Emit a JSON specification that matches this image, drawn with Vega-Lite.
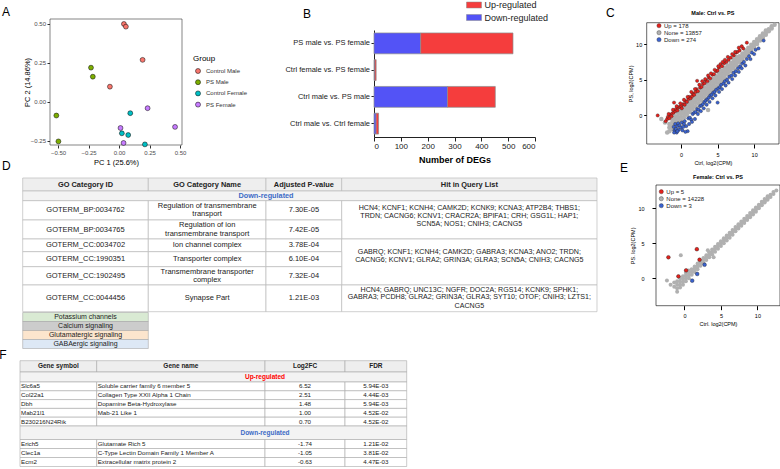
{
  "$schema": "https://vega.github.io/schema/vega-lite/v6.json",
  "width": 780,
  "height": 469,
  "autosize": {"type": "none"},
  "padding": 0,
  "background": "white",
  "config": {"view": {"stroke": null}, "font": "Liberation Sans", "axis": {"grid": false}},
  "datasets": {
    "pca": [
      {"pc1": 0.04, "pc2": 0.5, "group": "Control Male"},
      {"pc1": 0.056, "pc2": 0.483, "group": "Control Male"},
      {"pc1": 0.193, "pc2": 0.27, "group": "Control Male"},
      {"pc1": -0.075, "pc2": 0.098, "group": "Control Male"},
      {"pc1": -0.23, "pc2": 0.22, "group": "PS Male"},
      {"pc1": -0.215, "pc2": 0.162, "group": "PS Male"},
      {"pc1": -0.514, "pc2": -0.087, "group": "PS Male"},
      {"pc1": -0.497, "pc2": -0.253, "group": "PS Male"},
      {"pc1": 0.092, "pc2": -0.072, "group": "Control Female"},
      {"pc1": 0.023, "pc2": -0.201, "group": "Control Female"},
      {"pc1": 0.075, "pc2": -0.212, "group": "Control Female"},
      {"pc1": 0.212, "pc2": -0.272, "group": "Control Female"},
      {"pc1": 0.234, "pc2": -0.04, "group": "PS Female"},
      {"pc1": 0.459, "pc2": -0.16, "group": "PS Female"},
      {"pc1": 0.012, "pc2": -0.167, "group": "PS Female"},
      {"pc1": 0.037, "pc2": -0.263, "group": "PS Female"}
    ],
    "degs": [
      {"comparison": "PS male vs. PS female", "reg": "Down-regulated", "n": 174},
      {"comparison": "PS male vs. PS female", "reg": "Up-regulated", "n": 344},
      {"comparison": "Ctrl female vs. PS female", "reg": "Down-regulated", "n": 3},
      {"comparison": "Ctrl female vs. PS female", "reg": "Up-regulated", "n": 5},
      {"comparison": "Ctrl male vs. PS male", "reg": "Down-regulated", "n": 274},
      {"comparison": "Ctrl male vs. PS male", "reg": "Up-regulated", "n": 178},
      {"comparison": "Ctrl male vs. Ctrl female", "reg": "Down-regulated", "n": 8},
      {"comparison": "Ctrl male vs. Ctrl female", "reg": "Up-regulated", "n": 9}
    ],
    "cm": [
      {"x": -1.6, "y": -2.2, "s": "None"}, {"x": -1.6, "y": -1.7, "s": "None"}, {"x": -1.6, "y": -1.2, "s": "None"},
      {"x": -1.2, "y": -1.9, "s": "None"}, {"x": -1.2, "y": -1.4, "s": "None"}, {"x": -1.2, "y": -0.9, "s": "None"}, {"x": -1.2, "y": -0.5, "s": "None"},
      {"x": -0.8, "y": -1.5, "s": "None"}, {"x": -0.8, "y": -1.0, "s": "None"}, {"x": -0.8, "y": -0.6, "s": "None"}, {"x": -0.8, "y": -0.1, "s": "None"},
      {"x": -0.4, "y": -1.1, "s": "None"}, {"x": -0.4, "y": -0.6, "s": "None"}, {"x": -0.4, "y": -0.2, "s": "None"}, {"x": -0.4, "y": 0.3, "s": "None"},
      {"x": 0.0, "y": -0.7, "s": "None"}, {"x": 0.0, "y": -0.2, "s": "None"}, {"x": 0.0, "y": 0.3, "s": "None"}, {"x": 0.0, "y": 0.7, "s": "None"},
      {"x": 0.4, "y": -0.3, "s": "None"}, {"x": 0.4, "y": 0.2, "s": "None"}, {"x": 0.4, "y": 0.6, "s": "None"}, {"x": 0.4, "y": 1.1, "s": "None"},
      {"x": 0.8, "y": 0.1, "s": "None"}, {"x": 0.8, "y": 0.6, "s": "None"}, {"x": 0.8, "y": 1.0, "s": "None"}, {"x": 0.8, "y": 1.5, "s": "None"},
      {"x": 1.2, "y": 0.5, "s": "None"}, {"x": 1.2, "y": 1.0, "s": "None"}, {"x": 1.2, "y": 1.4, "s": "None"}, {"x": 1.2, "y": 1.9, "s": "None"},
      {"x": 1.6, "y": 0.9, "s": "None"}, {"x": 1.6, "y": 1.4, "s": "None"}, {"x": 1.6, "y": 1.8, "s": "None"}, {"x": 1.6, "y": 2.3, "s": "None"},
      {"x": 2.0, "y": 1.3, "s": "None"}, {"x": 2.0, "y": 1.8, "s": "None"}, {"x": 2.0, "y": 2.2, "s": "None"}, {"x": 2.0, "y": 2.7, "s": "None"},
      {"x": 2.4, "y": 1.7, "s": "None"}, {"x": 2.4, "y": 2.2, "s": "None"}, {"x": 2.4, "y": 2.6, "s": "None"}, {"x": 2.4, "y": 3.1, "s": "None"},
      {"x": 2.8, "y": 2.1, "s": "None"}, {"x": 2.8, "y": 2.6, "s": "None"}, {"x": 2.8, "y": 3.0, "s": "None"}, {"x": 2.8, "y": 3.5, "s": "None"},
      {"x": 3.2, "y": 2.5, "s": "None"}, {"x": 3.2, "y": 3.0, "s": "None"}, {"x": 3.2, "y": 3.4, "s": "None"}, {"x": 3.2, "y": 3.9, "s": "None"},
      {"x": 3.6, "y": 2.9, "s": "None"}, {"x": 3.6, "y": 3.4, "s": "None"}, {"x": 3.6, "y": 3.8, "s": "None"}, {"x": 3.6, "y": 4.3, "s": "None"},
      {"x": 4.0, "y": 3.3, "s": "None"}, {"x": 4.0, "y": 3.8, "s": "None"}, {"x": 4.0, "y": 4.2, "s": "None"}, {"x": 4.0, "y": 4.7, "s": "None"},
      {"x": 4.4, "y": 3.7, "s": "None"}, {"x": 4.4, "y": 4.2, "s": "None"}, {"x": 4.4, "y": 4.6, "s": "None"}, {"x": 4.4, "y": 5.1, "s": "None"},
      {"x": 4.8, "y": 4.1, "s": "None"}, {"x": 4.8, "y": 4.6, "s": "None"}, {"x": 4.8, "y": 5.0, "s": "None"}, {"x": 4.8, "y": 5.5, "s": "None"},
      {"x": 5.2, "y": 4.5, "s": "None"}, {"x": 5.2, "y": 5.0, "s": "None"}, {"x": 5.2, "y": 5.4, "s": "None"}, {"x": 5.2, "y": 5.9, "s": "None"},
      {"x": 5.6, "y": 4.9, "s": "None"}, {"x": 5.6, "y": 5.4, "s": "None"}, {"x": 5.6, "y": 5.8, "s": "None"}, {"x": 5.6, "y": 6.3, "s": "None"},
      {"x": 6.0, "y": 5.3, "s": "None"}, {"x": 6.0, "y": 5.8, "s": "None"}, {"x": 6.0, "y": 6.2, "s": "None"}, {"x": 6.0, "y": 6.7, "s": "None"},
      {"x": 6.4, "y": 5.8, "s": "None"}, {"x": 6.4, "y": 6.2, "s": "None"}, {"x": 6.4, "y": 6.6, "s": "None"}, {"x": 6.4, "y": 7.0, "s": "None"},
      {"x": 6.8, "y": 6.2, "s": "None"}, {"x": 6.8, "y": 6.6, "s": "None"}, {"x": 6.8, "y": 7.0, "s": "None"}, {"x": 6.8, "y": 7.4, "s": "None"},
      {"x": 7.2, "y": 6.6, "s": "None"}, {"x": 7.2, "y": 7.0, "s": "None"}, {"x": 7.2, "y": 7.4, "s": "None"}, {"x": 7.2, "y": 7.8, "s": "None"},
      {"x": 7.6, "y": 7.0, "s": "None"}, {"x": 7.6, "y": 7.4, "s": "None"}, {"x": 7.6, "y": 7.8, "s": "None"}, {"x": 7.6, "y": 8.2, "s": "None"},
      {"x": 8.0, "y": 7.5, "s": "None"}, {"x": 8.0, "y": 7.9, "s": "None"}, {"x": 8.0, "y": 8.3, "s": "None"},
      {"x": 8.4, "y": 7.9, "s": "None"}, {"x": 8.4, "y": 8.3, "s": "None"}, {"x": 8.4, "y": 8.7, "s": "None"},
      {"x": 8.8, "y": 8.3, "s": "None"}, {"x": 8.8, "y": 8.7, "s": "None"}, {"x": 8.8, "y": 9.1, "s": "None"},
      {"x": 9.2, "y": 8.7, "s": "None"}, {"x": 9.2, "y": 9.1, "s": "None"}, {"x": 9.2, "y": 9.5, "s": "None"},
      {"x": 9.6, "y": 9.2, "s": "None"}, {"x": 9.6, "y": 9.5, "s": "None"}, {"x": 9.6, "y": 9.9, "s": "None"},
      {"x": 10.0, "y": 9.6, "s": "None"}, {"x": 10.0, "y": 9.9, "s": "None"}, {"x": 10.0, "y": 10.3, "s": "None"},
      {"x": 10.4, "y": 10.0, "s": "None"}, {"x": 10.4, "y": 10.3, "s": "None"}, {"x": 10.4, "y": 10.7, "s": "None"},
      {"x": 10.8, "y": 10.5, "s": "None"}, {"x": 10.8, "y": 10.8, "s": "None"}, {"x": 10.8, "y": 11.1, "s": "None"},
      {"x": 11.2, "y": 10.9, "s": "None"}, {"x": 11.2, "y": 11.2, "s": "None"}, {"x": 11.2, "y": 11.5, "s": "None"},
      {"x": 11.6, "y": 11.3, "s": "None"}, {"x": 11.6, "y": 11.6, "s": "None"}, {"x": 11.6, "y": 11.9, "s": "None"},
      {"x": 12.0, "y": 11.8, "s": "None"}, {"x": 12.0, "y": 12.1, "s": "None"},
      {"x": 12.4, "y": 12.2, "s": "None"}, {"x": 12.4, "y": 12.5, "s": "None"},
      {"x": 12.8, "y": 12.7, "s": "None"},
      {"x": -2.7, "y": -0.5, "s": "None"}, {"x": 3.7, "y": 0.75, "s": "None"}, {"x": -2.2, "y": -1.0, "s": "None"}, {"x": -1.9, "y": -2.4, "s": "None"},
      {"x": -3.2, "y": 0.0, "s": "Up"}, {"x": -2.1, "y": -0.8, "s": "Up"}, {"x": -1.9, "y": -0.5, "s": "Up"}, {"x": -1.8, "y": -0.2, "s": "Up"},
      {"x": -1.6, "y": -0.4, "s": "Up"}, {"x": -1.5, "y": 0.1, "s": "Up"}, {"x": -1.3, "y": -0.1, "s": "Up"}, {"x": -1.2, "y": 0.3, "s": "Up"},
      {"x": -1.0, "y": 0.4, "s": "Up"}, {"x": -0.96, "y": 1.8, "s": "Up"}, {"x": -0.8, "y": 0.6, "s": "Up"}, {"x": -0.7, "y": 0.9, "s": "Up"},
      {"x": -0.5, "y": 0.7, "s": "Up"}, {"x": -0.4, "y": 1.1, "s": "Up"}, {"x": -0.2, "y": 1.2, "s": "Up"}, {"x": 0.0, "y": 1.3, "s": "Up"},
      {"x": 0.1, "y": 1.0, "s": "Up"}, {"x": 0.3, "y": 1.6, "s": "Up"}, {"x": 0.5, "y": 1.5, "s": "Up"}, {"x": 0.6, "y": 2.0, "s": "Up"},
      {"x": 0.8, "y": 1.9, "s": "Up"}, {"x": 1.0, "y": 2.3, "s": "Up"}, {"x": 1.1, "y": 2.6, "s": "Up"}, {"x": 1.3, "y": 2.4, "s": "Up"},
      {"x": 1.5, "y": 2.7, "s": "Up"}, {"x": 1.6, "y": 3.1, "s": "Up"}, {"x": 1.8, "y": 2.9, "s": "Up"}, {"x": 2.0, "y": 3.3, "s": "Up"},
      {"x": 2.1, "y": 3.7, "s": "Up"}, {"x": 2.2, "y": 4.85, "s": "Up"}, {"x": 2.3, "y": 3.4, "s": "Up"}, {"x": 2.6, "y": 3.9, "s": "Up"},
      {"x": 2.8, "y": 4.0, "s": "Up"}, {"x": 3.0, "y": 4.4, "s": "Up"}, {"x": 3.2, "y": 4.5, "s": "Up"}, {"x": 3.4, "y": 4.9, "s": "Up"},
      {"x": 3.6, "y": 4.8, "s": "Up"}, {"x": 3.8, "y": 5.3, "s": "Up"}, {"x": 4.0, "y": 5.2, "s": "Up"}, {"x": 4.3, "y": 5.7, "s": "Up"},
      {"x": 4.5, "y": 5.8, "s": "Up"}, {"x": 4.8, "y": 6.2, "s": "Up"}, {"x": 5.0, "y": 6.3, "s": "Up"}, {"x": 5.2, "y": 6.7, "s": "Up"},
      {"x": 5.4, "y": 7.2, "s": "Up"}, {"x": 5.6, "y": 6.9, "s": "Up"}, {"x": 5.9, "y": 7.3, "s": "Up"}, {"x": 6.2, "y": 7.5, "s": "Up"},
      {"x": 6.5, "y": 7.8, "s": "Up"}, {"x": 6.8, "y": 8.1, "s": "Up"}, {"x": 7.2, "y": 8.4, "s": "Up"}, {"x": 7.5, "y": 8.8, "s": "Up"},
      {"x": 7.7, "y": 8.9, "s": "Up"}, {"x": 8.0, "y": 9.1, "s": "Up"}, {"x": 8.5, "y": 9.4, "s": "Up"}, {"x": 9.0, "y": 10.2, "s": "Up"},
      {"x": -1.7, "y": 0.2, "s": "Up"}, {"x": -1.1, "y": 0.8, "s": "Up"}, {"x": -0.6, "y": 1.3, "s": "Up"}, {"x": -0.1, "y": 1.7, "s": "Up"},
      {"x": 0.4, "y": 2.2, "s": "Up"}, {"x": 0.9, "y": 2.6, "s": "Up"}, {"x": 1.4, "y": 3.3, "s": "Up"}, {"x": 1.9, "y": 3.7, "s": "Up"},
      {"x": 2.5, "y": 4.3, "s": "Up"}, {"x": 2.9, "y": 4.8, "s": "Up"}, {"x": 3.3, "y": 5.1, "s": "Up"}, {"x": 3.7, "y": 5.6, "s": "Up"},
      {"x": 4.1, "y": 5.9, "s": "Up"}, {"x": 4.6, "y": 6.4, "s": "Up"}, {"x": 5.1, "y": 6.9, "s": "Up"}, {"x": 5.7, "y": 7.5, "s": "Up"},
      {"x": 6.0, "y": 7.8, "s": "Up"}, {"x": 6.4, "y": 8.2, "s": "Up"}, {"x": 7.0, "y": 8.6, "s": "Up"}, {"x": 7.4, "y": 8.9, "s": "Up"},
      {"x": 7.9, "y": 9.5, "s": "Up"}, {"x": 8.3, "y": 9.7, "s": "Up"},
      {"x": -1.0, "y": -1.6, "s": "Down"}, {"x": -0.9, "y": -2.1, "s": "Down"}, {"x": -0.8, "y": -1.2, "s": "Down"}, {"x": -0.7, "y": -1.9, "s": "Down"},
      {"x": -0.6, "y": -2.4, "s": "Down"}, {"x": -0.5, "y": -1.5, "s": "Down"}, {"x": -0.4, "y": -1.1, "s": "Down"}, {"x": -0.3, "y": -2.0, "s": "Down"},
      {"x": -0.2, "y": -1.4, "s": "Down"}, {"x": 0.0, "y": -1.7, "s": "Down"}, {"x": 0.1, "y": -1.0, "s": "Down"}, {"x": 0.2, "y": -2.1, "s": "Down"},
      {"x": 0.4, "y": -1.2, "s": "Down"}, {"x": 0.5, "y": -0.8, "s": "Down"}, {"x": 0.7, "y": -1.5, "s": "Down"}, {"x": 0.9, "y": -2.2, "s": "Down"},
      {"x": 1.0, "y": -0.4, "s": "Down"}, {"x": 1.2, "y": -0.3, "s": "Down"}, {"x": 1.4, "y": -0.6, "s": "Down"}, {"x": 1.6, "y": 0.2, "s": "Down"},
      {"x": 1.8, "y": 0.4, "s": "Down"}, {"x": 2.0, "y": 0.5, "s": "Down"}, {"x": 2.2, "y": 0.9, "s": "Down"}, {"x": 2.4, "y": 0.8, "s": "Down"},
      {"x": 2.6, "y": 1.3, "s": "Down"}, {"x": 2.8, "y": 1.4, "s": "Down"}, {"x": 3.0, "y": 1.6, "s": "Down"}, {"x": 3.2, "y": 1.9, "s": "Down"},
      {"x": 3.4, "y": 2.1, "s": "Down"}, {"x": 3.6, "y": 2.3, "s": "Down"}, {"x": 3.8, "y": 2.5, "s": "Down"}, {"x": 4.0, "y": 2.8, "s": "Down"},
      {"x": 4.2, "y": 2.9, "s": "Down"}, {"x": 4.4, "y": 3.2, "s": "Down"}, {"x": 4.6, "y": 3.3, "s": "Down"}, {"x": 4.8, "y": 3.6, "s": "Down"},
      {"x": 5.0, "y": 1.8, "s": "Down"}, {"x": 5.1, "y": 3.8, "s": "Down"}, {"x": 5.3, "y": 4.0, "s": "Down"}, {"x": 5.5, "y": 4.3, "s": "Down"},
      {"x": 5.8, "y": 4.5, "s": "Down"}, {"x": 6.0, "y": 4.8, "s": "Down"}, {"x": 6.3, "y": 5.0, "s": "Down"}, {"x": 6.6, "y": 5.4, "s": "Down"},
      {"x": 6.9, "y": 5.6, "s": "Down"}, {"x": 7.2, "y": 6.0, "s": "Down"}, {"x": 7.5, "y": 6.2, "s": "Down"}, {"x": 7.8, "y": 6.6, "s": "Down"},
      {"x": 8.1, "y": 6.9, "s": "Down"}, {"x": 8.4, "y": 7.3, "s": "Down"}, {"x": 8.6, "y": 7.5, "s": "Down"}, {"x": 9.0, "y": 7.9, "s": "Down"},
      {"x": 9.3, "y": 8.3, "s": "Down"}, {"x": 9.7, "y": 8.8, "s": "Down"}, {"x": 10.2, "y": 9.2, "s": "Down"}, {"x": 11.3, "y": 10.5, "s": "Down"},
      {"x": -0.95, "y": -2.4, "s": "Down"}, {"x": -0.5, "y": -2.2, "s": "Down"}, {"x": 0.3, "y": -1.6, "s": "Down"}, {"x": 0.6, "y": -2.3, "s": "Down"},
      {"x": 1.1, "y": -1.2, "s": "Down"}, {"x": 1.5, "y": -0.9, "s": "Down"}, {"x": 1.9, "y": -0.5, "s": "Down"}, {"x": 2.3, "y": 0.2, "s": "Down"},
      {"x": 2.7, "y": 0.6, "s": "Down"}, {"x": 3.1, "y": 1.0, "s": "Down"}, {"x": 3.5, "y": 1.5, "s": "Down"}, {"x": 3.9, "y": 1.9, "s": "Down"},
      {"x": 4.3, "y": 2.4, "s": "Down"}, {"x": 4.7, "y": 2.8, "s": "Down"}, {"x": 5.2, "y": 3.3, "s": "Down"}, {"x": 5.6, "y": 3.7, "s": "Down"},
      {"x": 6.1, "y": 4.2, "s": "Down"}, {"x": 6.5, "y": 4.6, "s": "Down"}, {"x": 7.0, "y": 5.1, "s": "Down"}, {"x": 7.4, "y": 5.6, "s": "Down"},
      {"x": 7.9, "y": 6.1, "s": "Down"}, {"x": 8.3, "y": 6.6, "s": "Down"}, {"x": 8.8, "y": 7.0, "s": "Down"}, {"x": 9.5, "y": 7.9, "s": "Down"},
      {"x": 10.0, "y": 8.6, "s": "Down"}, {"x": 10.6, "y": 9.4, "s": "Down"}
    ],
    "fm": [
      {"x": -1.4, "y": -1.2, "s": "None"}, {"x": -1.4, "y": -0.6, "s": "None"},
      {"x": -1.0, "y": -1.9, "s": "None"}, {"x": -1.0, "y": -1.4, "s": "None"}, {"x": -1.0, "y": -0.9, "s": "None"}, {"x": -1.0, "y": -0.4, "s": "None"},
      {"x": -0.6, "y": -1.3, "s": "None"}, {"x": -0.6, "y": -0.9, "s": "None"}, {"x": -0.6, "y": -0.5, "s": "None"}, {"x": -0.6, "y": 0.0, "s": "None"},
      {"x": -0.2, "y": -0.9, "s": "None"}, {"x": -0.2, "y": -0.5, "s": "None"}, {"x": -0.2, "y": -0.1, "s": "None"}, {"x": -0.2, "y": 0.3, "s": "None"},
      {"x": 0.2, "y": -0.4, "s": "None"}, {"x": 0.2, "y": 0.0, "s": "None"}, {"x": 0.2, "y": 0.4, "s": "None"}, {"x": 0.2, "y": 0.8, "s": "None"},
      {"x": 0.6, "y": 0.0, "s": "None"}, {"x": 0.6, "y": 0.4, "s": "None"}, {"x": 0.6, "y": 0.8, "s": "None"}, {"x": 0.6, "y": 1.1, "s": "None"},
      {"x": 1.0, "y": 0.5, "s": "None"}, {"x": 1.0, "y": 0.9, "s": "None"}, {"x": 1.0, "y": 1.3, "s": "None"},
      {"x": 1.4, "y": 0.9, "s": "None"}, {"x": 1.4, "y": 1.3, "s": "None"}, {"x": 1.4, "y": 1.7, "s": "None"},
      {"x": 1.8, "y": 1.3, "s": "None"}, {"x": 1.8, "y": 1.7, "s": "None"}, {"x": 1.8, "y": 2.1, "s": "None"},
      {"x": 2.2, "y": 1.8, "s": "None"}, {"x": 2.2, "y": 2.2, "s": "None"}, {"x": 2.2, "y": 2.5, "s": "None"},
      {"x": 2.6, "y": 2.2, "s": "None"}, {"x": 2.6, "y": 2.6, "s": "None"}, {"x": 2.6, "y": 2.9, "s": "None"},
      {"x": 3.0, "y": 2.6, "s": "None"}, {"x": 3.0, "y": 3.0, "s": "None"}, {"x": 3.0, "y": 3.3, "s": "None"},
      {"x": 3.4, "y": 3.0, "s": "None"}, {"x": 3.4, "y": 3.4, "s": "None"}, {"x": 3.4, "y": 3.7, "s": "None"},
      {"x": 3.8, "y": 3.4, "s": "None"}, {"x": 3.8, "y": 3.8, "s": "None"}, {"x": 3.8, "y": 4.1, "s": "None"},
      {"x": 4.2, "y": 3.8, "s": "None"}, {"x": 4.2, "y": 4.2, "s": "None"}, {"x": 4.2, "y": 4.5, "s": "None"},
      {"x": 4.6, "y": 4.2, "s": "None"}, {"x": 4.6, "y": 4.6, "s": "None"}, {"x": 4.6, "y": 4.9, "s": "None"},
      {"x": 5.0, "y": 4.6, "s": "None"}, {"x": 5.0, "y": 5.0, "s": "None"}, {"x": 5.0, "y": 5.3, "s": "None"},
      {"x": 5.4, "y": 5.0, "s": "None"}, {"x": 5.4, "y": 5.4, "s": "None"}, {"x": 5.4, "y": 5.7, "s": "None"},
      {"x": 5.8, "y": 5.4, "s": "None"}, {"x": 5.8, "y": 5.8, "s": "None"}, {"x": 5.8, "y": 6.1, "s": "None"},
      {"x": 6.2, "y": 5.8, "s": "None"}, {"x": 6.2, "y": 6.2, "s": "None"}, {"x": 6.2, "y": 6.5, "s": "None"},
      {"x": 6.6, "y": 6.2, "s": "None"}, {"x": 6.6, "y": 6.6, "s": "None"}, {"x": 6.6, "y": 6.9, "s": "None"},
      {"x": 7.0, "y": 6.7, "s": "None"}, {"x": 7.0, "y": 7.0, "s": "None"}, {"x": 7.0, "y": 7.3, "s": "None"},
      {"x": 7.4, "y": 7.1, "s": "None"}, {"x": 7.4, "y": 7.4, "s": "None"}, {"x": 7.4, "y": 7.7, "s": "None"},
      {"x": 7.8, "y": 7.5, "s": "None"}, {"x": 7.8, "y": 7.8, "s": "None"}, {"x": 7.8, "y": 8.1, "s": "None"},
      {"x": 8.2, "y": 7.9, "s": "None"}, {"x": 8.2, "y": 8.2, "s": "None"}, {"x": 8.2, "y": 8.5, "s": "None"},
      {"x": 8.6, "y": 8.3, "s": "None"}, {"x": 8.6, "y": 8.6, "s": "None"}, {"x": 8.6, "y": 8.9, "s": "None"},
      {"x": 9.0, "y": 8.7, "s": "None"}, {"x": 9.0, "y": 9.0, "s": "None"}, {"x": 9.0, "y": 9.3, "s": "None"},
      {"x": 9.4, "y": 9.1, "s": "None"}, {"x": 9.4, "y": 9.4, "s": "None"}, {"x": 9.4, "y": 9.7, "s": "None"},
      {"x": 9.8, "y": 9.5, "s": "None"}, {"x": 9.8, "y": 9.8, "s": "None"}, {"x": 9.8, "y": 10.1, "s": "None"},
      {"x": 10.2, "y": 10.0, "s": "None"}, {"x": 10.2, "y": 10.2, "s": "None"}, {"x": 10.2, "y": 10.5, "s": "None"},
      {"x": 10.6, "y": 10.4, "s": "None"}, {"x": 10.6, "y": 10.6, "s": "None"}, {"x": 10.6, "y": 10.9, "s": "None"},
      {"x": 11.0, "y": 10.8, "s": "None"}, {"x": 11.0, "y": 11.0, "s": "None"}, {"x": 11.0, "y": 11.3, "s": "None"},
      {"x": 11.4, "y": 11.2, "s": "None"}, {"x": 11.4, "y": 11.4, "s": "None"}, {"x": 11.4, "y": 11.7, "s": "None"},
      {"x": 11.8, "y": 11.6, "s": "None"}, {"x": 11.8, "y": 11.9, "s": "None"},
      {"x": 12.2, "y": 12.0, "s": "None"}, {"x": 12.2, "y": 12.3, "s": "None"},
      {"x": 12.6, "y": 12.5, "s": "None"},
      {"x": -2.4, "y": -0.3, "s": "None"}, {"x": -0.5, "y": 3.3, "s": "None"}, {"x": 3.2, "y": 4.0, "s": "None"}, {"x": -1.9, "y": -0.9, "s": "None"}, {"x": 4.0, "y": 3.0, "s": "None"},
      {"x": -2.2, "y": 3.0, "s": "Up"}, {"x": 1.7, "y": 4.15, "s": "Up"}, {"x": 2.07, "y": 2.65, "s": "Up"}, {"x": 0.23, "y": 1.14, "s": "Up"}, {"x": -0.83, "y": 0.28, "s": "Up"},
      {"x": 2.76, "y": 1.94, "s": "Down"}, {"x": 1.75, "y": 0.62, "s": "Down"}, {"x": 1.06, "y": -0.33, "s": "Down"}
    ],
    "dcells": [
      {"c0": 0, "c1": 1, "r0": 0, "r1": 1, "k": "h"}, {"c0": 1, "c1": 2, "r0": 0, "r1": 1, "k": "h"},
      {"c0": 2, "c1": 3, "r0": 0, "r1": 1, "k": "h"}, {"c0": 3, "c1": 4, "r0": 0, "r1": 1, "k": "h"},
      {"c0": 0, "c1": 4, "r0": 1, "r1": 2, "k": "s"},
      {"c0": 0, "c1": 1, "r0": 2, "r1": 3, "k": "d"}, {"c0": 1, "c1": 2, "r0": 2, "r1": 3, "k": "d"}, {"c0": 2, "c1": 3, "r0": 2, "r1": 3, "k": "d"},
      {"c0": 3, "c1": 4, "r0": 2, "r1": 4, "k": "d"},
      {"c0": 0, "c1": 1, "r0": 3, "r1": 4, "k": "d"}, {"c0": 1, "c1": 2, "r0": 3, "r1": 4, "k": "d"}, {"c0": 2, "c1": 3, "r0": 3, "r1": 4, "k": "d"},
      {"c0": 0, "c1": 1, "r0": 4, "r1": 5, "k": "d"}, {"c0": 1, "c1": 2, "r0": 4, "r1": 5, "k": "d"}, {"c0": 2, "c1": 3, "r0": 4, "r1": 5, "k": "d"},
      {"c0": 3, "c1": 4, "r0": 4, "r1": 7, "k": "d"},
      {"c0": 0, "c1": 1, "r0": 5, "r1": 6, "k": "d"}, {"c0": 1, "c1": 2, "r0": 5, "r1": 6, "k": "d"}, {"c0": 2, "c1": 3, "r0": 5, "r1": 6, "k": "d"},
      {"c0": 0, "c1": 1, "r0": 6, "r1": 7, "k": "d"}, {"c0": 1, "c1": 2, "r0": 6, "r1": 7, "k": "d"}, {"c0": 2, "c1": 3, "r0": 6, "r1": 7, "k": "d"},
      {"c0": 0, "c1": 1, "r0": 7, "r1": 8, "k": "d"}, {"c0": 1, "c1": 2, "r0": 7, "r1": 8, "k": "d"}, {"c0": 2, "c1": 3, "r0": 7, "r1": 8, "k": "d"},
      {"c0": 3, "c1": 4, "r0": 7, "r1": 8, "k": "d"}
    ],
    "dtext": [
      {"cx": 0.5, "cy": 0.5, "t": "GO Category ID", "k": "h"},
      {"cx": 1.5, "cy": 0.5, "t": "GO Category Name", "k": "h"},
      {"cx": 2.5, "cy": 0.5, "t": "Adjusted P-value", "k": "h"},
      {"cx": 3.5, "cy": 0.5, "t": "Hit in Query List", "k": "h"},
      {"cx": 2, "cy": 1.5, "t": "Down-regulated", "k": "s"},
      {"cx": 0.5, "cy": 2.5, "t": "GOTERM_BP:0034762", "k": "d"},
      {"cx": 1.5, "cy": 2.275, "t": "Regulation of transmembrane", "k": "d"},
      {"cx": 1.5, "cy": 2.705, "t": "transport", "k": "d"},
      {"cx": 2.5, "cy": 2.5, "t": "7.30E-05", "k": "d"},
      {"cx": 0.5, "cy": 3.5, "t": "GOTERM_BP:0034765", "k": "d"},
      {"cx": 1.5, "cy": 3.263, "t": "Regulation of ion", "k": "d"},
      {"cx": 1.5, "cy": 3.737, "t": "transmembrane transport", "k": "d"},
      {"cx": 2.5, "cy": 3.5, "t": "7.42E-05", "k": "d"},
      {"cx": 0.5, "cy": 4.5, "t": "GOTERM_CC:0034702", "k": "d"},
      {"cx": 1.5, "cy": 4.5, "t": "Ion channel complex", "k": "d"},
      {"cx": 2.5, "cy": 4.5, "t": "3.78E-04", "k": "d"},
      {"cx": 0.5, "cy": 5.5, "t": "GOTERM_CC:1990351", "k": "d"},
      {"cx": 1.5, "cy": 5.5, "t": "Transporter complex", "k": "d"},
      {"cx": 2.5, "cy": 5.5, "t": "6.10E-04", "k": "d"},
      {"cx": 0.5, "cy": 6.5, "t": "GOTERM_CC:1902495", "k": "d"},
      {"cx": 1.5, "cy": 6.273, "t": "Transmembrane transporter", "k": "d"},
      {"cx": 1.5, "cy": 6.727, "t": "complex", "k": "d"},
      {"cx": 2.5, "cy": 6.5, "t": "7.32E-04", "k": "d"},
      {"cx": 0.5, "cy": 7.5, "t": "GOTERM_CC:0044456", "k": "d"},
      {"cx": 1.5, "cy": 7.5, "t": "Synapse Part", "k": "d"},
      {"cx": 2.5, "cy": 7.5, "t": "1.21E-03", "k": "d"},
      {"cx": 3.5, "cy": 2.378, "t": "HCN4; KCNF1; KCNH4; CAMK2D; KCNK9; KCNA3; ATP2B4; THBS1;", "k": "g"},
      {"cx": 3.5, "cy": 2.793, "t": "TRDN; CACNG6; KCNV1; CRACR2A; BPIFA1; CRH; GSG1L; HAP1;", "k": "g"},
      {"cx": 3.5, "cy": 3.211, "t": "SCN5A; NOS1; CNIH3; CACNG5", "k": "g"},
      {"cx": 3.5, "cy": 5.04, "t": "GABRQ; KCNF1; KCNH4; CAMK2D; GABRA3; KCNA3; ANO2; TRDN;", "k": "g"},
      {"cx": 3.5, "cy": 5.573, "t": "CACNG6; KCNV1; GLRA2; GRIN3A; GLRA3; SCN5A; CNIH3; CACNG5", "k": "g"},
      {"cx": 3.5, "cy": 7.169, "t": "HCN4; GABRQ; UNC13C; NGFR; DOC2A; RGS14; KCNK9; SPHK1;", "k": "g"},
      {"cx": 3.5, "cy": 7.468, "t": "GABRA3; PCDH8; GLRA2; GRIN3A; GLRA3; SYT10; OTOF; CNIH3; LZTS1;", "k": "g"},
      {"cx": 3.5, "cy": 7.768, "t": "CACNG5", "k": "g"}
    ],
    "dleg": [
      {"cat": "Potassium channels"},
      {"cat": "Calcium signaling"},
      {"cat": "Glutamatergic signaling"},
      {"cat": "GABAergic signaling"}
    ],
    "fcells": [
      {"c0": 0, "c1": 1, "r0": 0, "r1": 1, "k": "h"}, {"c0": 1, "c1": 2, "r0": 0, "r1": 1, "k": "h"},
      {"c0": 2, "c1": 3, "r0": 0, "r1": 1, "k": "h"}, {"c0": 3, "c1": 4, "r0": 0, "r1": 1, "k": "h"},
      {"c0": 0, "c1": 4, "r0": 1, "r1": 2, "k": "s"},
      {"c0": 0, "c1": 1, "r0": 2, "r1": 3, "k": "d"}, {"c0": 1, "c1": 2, "r0": 2, "r1": 3, "k": "d"}, {"c0": 2, "c1": 3, "r0": 2, "r1": 3, "k": "d"}, {"c0": 3, "c1": 4, "r0": 2, "r1": 3, "k": "d"},
      {"c0": 0, "c1": 1, "r0": 3, "r1": 4, "k": "d"}, {"c0": 1, "c1": 2, "r0": 3, "r1": 4, "k": "d"}, {"c0": 2, "c1": 3, "r0": 3, "r1": 4, "k": "d"}, {"c0": 3, "c1": 4, "r0": 3, "r1": 4, "k": "d"},
      {"c0": 0, "c1": 1, "r0": 4, "r1": 5, "k": "d"}, {"c0": 1, "c1": 2, "r0": 4, "r1": 5, "k": "d"}, {"c0": 2, "c1": 3, "r0": 4, "r1": 5, "k": "d"}, {"c0": 3, "c1": 4, "r0": 4, "r1": 5, "k": "d"},
      {"c0": 0, "c1": 1, "r0": 5, "r1": 6, "k": "d"}, {"c0": 1, "c1": 2, "r0": 5, "r1": 6, "k": "d"}, {"c0": 2, "c1": 3, "r0": 5, "r1": 6, "k": "d"}, {"c0": 3, "c1": 4, "r0": 5, "r1": 6, "k": "d"},
      {"c0": 0, "c1": 1, "r0": 6, "r1": 7, "k": "d"}, {"c0": 1, "c1": 2, "r0": 6, "r1": 7, "k": "d"}, {"c0": 2, "c1": 3, "r0": 6, "r1": 7, "k": "d"}, {"c0": 3, "c1": 4, "r0": 6, "r1": 7, "k": "d"},
      {"c0": 0, "c1": 4, "r0": 7, "r1": 8, "k": "s"},
      {"c0": 0, "c1": 1, "r0": 8, "r1": 9, "k": "d"}, {"c0": 1, "c1": 2, "r0": 8, "r1": 9, "k": "d"}, {"c0": 2, "c1": 3, "r0": 8, "r1": 9, "k": "d"}, {"c0": 3, "c1": 4, "r0": 8, "r1": 9, "k": "d"},
      {"c0": 0, "c1": 1, "r0": 9, "r1": 10, "k": "d"}, {"c0": 1, "c1": 2, "r0": 9, "r1": 10, "k": "d"}, {"c0": 2, "c1": 3, "r0": 9, "r1": 10, "k": "d"}, {"c0": 3, "c1": 4, "r0": 9, "r1": 10, "k": "d"},
      {"c0": 0, "c1": 1, "r0": 10, "r1": 11, "k": "d"}, {"c0": 1, "c1": 2, "r0": 10, "r1": 11, "k": "d"}, {"c0": 2, "c1": 3, "r0": 10, "r1": 11, "k": "d"}, {"c0": 3, "c1": 4, "r0": 10, "r1": 11, "k": "d"}
    ],
    "ftext": [
      {"cx": 0.5, "cy": 0.5, "t": "Gene symbol", "k": "h"},
      {"cx": 1.5, "cy": 0.5, "t": "Gene name", "k": "h"},
      {"cx": 2.5, "cy": 0.5, "t": "Log2FC", "k": "h"},
      {"cx": 3.5, "cy": 0.5, "t": "FDR", "k": "h"},
      {"cx": 2, "cy": 1.5, "t": "Up-regulated", "k": "u"},
      {"cx": 2, "cy": 7.5, "t": "Down-regulated", "k": "dn"},
      {"cx": 0, "cy": 2.5, "t": "Slc6a5", "k": "l"}, {"cx": 1, "cy": 2.5, "t": "Soluble carrier family 6 member 5", "k": "l"}, {"cx": 2.5, "cy": 2.5, "t": "6.52", "k": "c"}, {"cx": 3.5, "cy": 2.5, "t": "5.94E-03", "k": "c"},
      {"cx": 0, "cy": 3.5, "t": "Col22a1", "k": "l"}, {"cx": 1, "cy": 3.5, "t": "Collagen Type XXII Alpha 1 Chain", "k": "l"}, {"cx": 2.5, "cy": 3.5, "t": "2.51", "k": "c"}, {"cx": 3.5, "cy": 3.5, "t": "4.44E-03", "k": "c"},
      {"cx": 0, "cy": 4.5, "t": "Dbh", "k": "l"}, {"cx": 1, "cy": 4.5, "t": "Dopamine Beta-Hydroxylase", "k": "l"}, {"cx": 2.5, "cy": 4.5, "t": "1.48", "k": "c"}, {"cx": 3.5, "cy": 4.5, "t": "5.94E-03", "k": "c"},
      {"cx": 0, "cy": 5.5, "t": "Mab21l1", "k": "l"}, {"cx": 1, "cy": 5.5, "t": "Mab-21 Like 1", "k": "l"}, {"cx": 2.5, "cy": 5.5, "t": "1.00", "k": "c"}, {"cx": 3.5, "cy": 5.5, "t": "4.52E-02", "k": "c"},
      {"cx": 0, "cy": 6.5, "t": "B230216N24Rik", "k": "l"}, {"cx": 2.5, "cy": 6.5, "t": "0.70", "k": "c"}, {"cx": 3.5, "cy": 6.5, "t": "4.52E-02", "k": "c"},
      {"cx": 0, "cy": 8.5, "t": "Erich5", "k": "l"}, {"cx": 1, "cy": 8.5, "t": "Glutamate Rich 5", "k": "l"}, {"cx": 2.5, "cy": 8.5, "t": "-1.74", "k": "c"}, {"cx": 3.5, "cy": 8.5, "t": "1.21E-02", "k": "c"},
      {"cx": 0, "cy": 9.5, "t": "Clec1a", "k": "l"}, {"cx": 1, "cy": 9.5, "t": "C-Type Lectin Domain Family 1 Member A", "k": "l"}, {"cx": 2.5, "cy": 9.5, "t": "-1.05", "k": "c"}, {"cx": 3.5, "cy": 9.5, "t": "3.81E-02", "k": "c"},
      {"cx": 0, "cy": 10.5, "t": "Ecm2", "k": "l"}, {"cx": 1, "cy": 10.5, "t": "Extracellular matrix protein 2", "k": "l"}, {"cx": 2.5, "cy": 10.5, "t": "-0.63", "k": "c"}, {"cx": 3.5, "cy": 10.5, "t": "4.47E-03", "k": "c"}
    ]
  },
  "layer": [
    {
      "data": {"name": "pca"},
      "layer": [
        {
          "data": {"values": [{}]},
          "mark": {"type": "rect", "fill": "white", "stroke": "#333333", "strokeWidth": 0.6},
          "encoding": {
            "x": {"datum": -0.566, "type": "quantitative"},
            "x2": {"datum": 0.516},
            "y": {"datum": -0.276, "type": "quantitative"},
            "y2": {"datum": 0.532}
          }
        },
        {
          "mark": {"type": "point", "filled": true, "size": 24, "opacity": 1, "stroke": "black", "strokeWidth": 0.5},
          "encoding": {
            "x": {"field": "pc1", "type": "quantitative",
              "scale": {"domain": [-0.566, 0.516], "range": [50, 182], "nice": false, "zero": false},
              "axis": {"orient": "bottom", "offset": -324, "values": [-0.5, -0.25, 0, 0.25, 0.5], "format": ".2f", "title": "PC 1 (25.6%)",
                "titleFontSize": 7.5, "titleFontWeight": "normal", "titleColor": "#000", "titlePadding": 3,
                "labelFontSize": 6, "labelColor": "#4d4d4d", "labelPadding": 1.5, "tickColor": "#333", "tickSize": 3, "domain": false}},
            "y": {"field": "pc2", "type": "quantitative",
              "scale": {"domain": [-0.276, 0.532], "range": [145, 19], "nice": false, "zero": false},
              "axis": {"orient": "left", "offset": -50, "values": [-0.25, 0, 0.25, 0.5], "format": ".2f", "title": "PC 2 (14.86%)",
                "titleFontSize": 7.5, "titleFontWeight": "normal", "titleColor": "#000", "titlePadding": -1,
                "labelFontSize": 6, "labelColor": "#4d4d4d", "labelPadding": 1.5, "tickColor": "#333", "tickSize": 3, "domain": false}},
            "color": {"field": "group", "type": "nominal",
              "scale": {"domain": ["Control Male", "PS Male", "Control Female", "PS Female"], "range": ["#F8766D", "#7CAE00", "#00BFC4", "#C77CFF"]},
              "legend": {"orient": "none", "legendX": 193, "legendY": 55, "title": "Group", "titleFontSize": 8, "titleFontWeight": "normal", "titleColor": "#000", "titlePadding": 5,
                "labelFontSize": 6, "labelColor": "#333", "symbolType": "circle", "symbolSize": 25, "symbolStrokeColor": "black", "symbolStrokeWidth": 0.5,
                "symbolOpacity": 1, "rowPadding": 3.2, "labelOffset": 5, "symbolOffset": 2, "padding": 0}}
          }
        },
        {
          "data": {"values": [{"t": "A"}]},
          "mark": {"type": "text", "fontSize": 12, "align": "left", "baseline": "middle", "color": "#000"},
          "encoding": {
            "x": {"datum": -0.959, "type": "quantitative"},
            "y": {"datum": 0.574, "type": "quantitative"},
            "text": {"field": "t"}
          }
        }
      ]
    },
    {
      "data": {"name": "degs"},
      "layer": [
        {
          "mark": {"type": "bar", "stroke": "#8c8c8c", "strokeWidth": 0.7},
          "encoding": {
            "y": {"field": "comparison", "type": "nominal",
              "scale": {"domain": ["PS male vs. PS female", "Ctrl female vs. PS female", "Ctrl male vs. PS male", "Ctrl male vs. Ctrl female"], "range": [30, 137], "paddingInner": 0.22, "paddingOuter": 0.11},
              "axis": {"orient": "left", "offset": -374, "title": null, "labelFontSize": 7.5, "labelColor": "#222", "labelPadding": 1.5,
                "tickColor": "#222", "tickSize": 3, "domainColor": "#222", "domainWidth": 1}},
            "x": {"field": "n", "type": "quantitative", "stack": "zero",
              "scale": {"domain": [0, 600], "range": [374, 535], "nice": false},
              "axis": {"orient": "bottom", "offset": -332, "values": [0, 100, 200, 300, 400, 500, 600], "title": "Number of DEGs",
                "titleFontSize": 9, "titleFontWeight": "bold", "titleColor": "#000", "titlePadding": 5,
                "labelFontSize": 8, "labelColor": "#222", "labelPadding": 1.5, "tickColor": "#222", "tickSize": 4, "domainColor": "#222", "domainWidth": 1}},
            "color": {"field": "reg", "type": "nominal",
              "scale": {"domain": ["Up-regulated", "Down-regulated"], "range": ["#f53d3d", "#5353f6"]},
              "legend": {"orient": "none", "legendX": 469.5, "legendY": 0.5, "title": null, "padding": 0,
                "symbolType": "M-2.5,-1H2.5V1H-2.5Z", "symbolSize": 36, "symbolStrokeColor": "#888", "symbolStrokeWidth": 0.5,
                "labelFontSize": 9, "labelColor": "#222", "labelOffset": 6, "rowPadding": 2.5}}
          }
        },
        {
          "data": {"values": [{"t": "B"}]},
          "mark": {"type": "text", "fontSize": 12, "align": "left", "baseline": "middle", "color": "#000", "dy": -29},
          "encoding": {
            "x": {"datum": -265, "type": "quantitative"},
            "y": {"datum": "PS male vs. PS female", "type": "nominal"},
            "text": {"field": "t"}
          }
        }
      ]
    },
    {
      "data": {"name": "cm"},
      "layer": [
        {
          "data": {"values": [{}]},
          "mark": {"type": "rect", "fill": "white", "stroke": "#000", "strokeWidth": 0.6},
          "encoding": {
            "x": {"datum": -4.7, "type": "quantitative"},
            "x2": {"datum": 13.4},
            "y": {"datum": -4.0, "type": "quantitative"},
            "y2": {"datum": 13.0}
          }
        },
        {
          "transform": [{"filter": "datum.s == 'None'"}],
          "mark": {"type": "circle", "size": 20, "opacity": 1},
          "encoding": {
            "x": {"field": "x", "type": "quantitative",
              "scale": {"domain": [-4.7, 13.4], "range": [646.7, 779], "nice": false, "zero": false},
              "axis": {"orient": "bottom", "offset": -325, "values": [0, 5, 10], "title": "Ctrl, log2(CPM)",
                "titleFontSize": 5.5, "titleFontWeight": "normal", "titleColor": "#000", "titlePadding": 2.5,
                "labelFontSize": 5.5, "labelColor": "#000", "labelPadding": 4, "tickColor": "#000", "tickSize": 4, "domain": false}},
            "y": {"field": "y", "type": "quantitative",
              "scale": {"domain": [-4.0, 13.0], "range": [144, 22.7], "nice": false, "zero": false},
              "axis": {"orient": "left", "offset": -646.7, "values": [0, 5, 10], "title": "PS, log2(CPM)",
                "titleFontSize": 5.5, "titleFontWeight": "normal", "titleColor": "#000", "titlePadding": 2,
                "labelFontSize": 5.5, "labelColor": "#000", "labelPadding": 2, "tickColor": "#000", "tickSize": 3, "domain": false}},
            "color": {"field": "s", "type": "nominal",
              "scale": {"domain": ["Up", "None", "Down"], "range": ["#e3211c", "#b0b0b0", "#3a62d0"]},
              "legend": {"orient": "none", "legendX": 656, "legendY": 22.7, "title": null, "padding": 0,
                "labelExpr": "datum.label == 'Up' ? 'Up = 178' : datum.label == 'None' ? 'None = 13857' : 'Down = 274'",
                "labelFontSize": 6, "labelColor": "#222", "labelOffset": 2, "symbolType": "circle", "symbolSize": 18,
                "symbolStrokeColor": "#222", "symbolStrokeWidth": 0.35, "rowPadding": 1}}
          }
        },
        {
          "transform": [{"filter": "datum.s != 'None'"}],
          "mark": {"type": "circle", "size": 11, "opacity": 1, "stroke": "#222", "strokeWidth": 0.35},
          "encoding": {
            "x": {"field": "x", "type": "quantitative"},
            "y": {"field": "y", "type": "quantitative"},
            "color": {"field": "s", "type": "nominal"}
          }
        },
        {
          "data": {"values": [{"t": "Male: Ctrl vs. PS"}]},
          "mark": {"type": "text", "fontSize": 5.5, "fontWeight": "bold", "baseline": "middle", "color": "#000"},
          "encoding": {
            "x": {"datum": 4.35, "type": "quantitative"},
            "y": {"datum": 14.4, "type": "quantitative"},
            "text": {"field": "t"}
          }
        },
        {
          "data": {"values": [{"t": "C"}]},
          "mark": {"type": "text", "fontSize": 12, "align": "left", "baseline": "middle", "color": "#000"},
          "encoding": {
            "x": {"datum": -10.28, "type": "quantitative"},
            "y": {"datum": 14.36, "type": "quantitative"},
            "text": {"field": "t"}
          }
        }
      ]
    },
    {
      "data": {"name": "fm"},
      "layer": [
        {
          "data": {"values": [{}]},
          "mark": {"type": "rect", "fill": "white", "stroke": "#000", "strokeWidth": 0.6},
          "encoding": {
            "x": {"datum": -3.9, "type": "quantitative"},
            "x2": {"datum": 13.1},
            "y": {"datum": -3.9, "type": "quantitative"},
            "y2": {"datum": 13.3}
          }
        },
        {
          "transform": [{"filter": "datum.s == 'None'"}],
          "mark": {"type": "circle", "size": 16, "opacity": 1},
          "encoding": {
            "x": {"field": "x", "type": "quantitative",
              "scale": {"domain": [-3.9, 13.1], "range": [656, 780], "nice": false, "zero": false},
              "axis": {"orient": "bottom", "offset": -163.3, "values": [0, 5, 10], "title": "Ctrl. log2(CPM)",
                "titleFontSize": 5.5, "titleFontWeight": "normal", "titleColor": "#000", "titlePadding": 2.5,
                "labelFontSize": 5.5, "labelColor": "#000", "labelPadding": 4, "tickColor": "#000", "tickSize": 4, "domain": false}},
            "y": {"field": "y", "type": "quantitative",
              "scale": {"domain": [-3.9, 13.3], "range": [305.7, 185], "nice": false, "zero": false},
              "axis": {"orient": "left", "offset": -656, "values": [0, 5, 10], "title": "PS. log2(CPM)",
                "titleFontSize": 5.5, "titleFontWeight": "normal", "titleColor": "#000", "titlePadding": 2,
                "labelFontSize": 5.5, "labelColor": "#000", "labelPadding": 8, "tickColor": "#000", "tickSize": 4, "domain": false}},
            "color": {"field": "s", "type": "nominal",
              "scale": {"domain": ["Up", "None", "Down"], "range": ["#e3211c", "#b0b0b0", "#3a62d0"]},
              "legend": {"orient": "none", "legendX": 658.3, "legendY": 188.7, "title": null, "padding": 0,
                "labelExpr": "datum.label == 'Up' ? 'Up = 5' : datum.label == 'None' ? 'None = 14228' : 'Down = 3'",
                "labelFontSize": 6, "labelColor": "#222", "labelOffset": 2, "symbolType": "circle", "symbolSize": 18,
                "symbolStrokeColor": "#222", "symbolStrokeWidth": 0.35, "rowPadding": 1}}
          }
        },
        {
          "transform": [{"filter": "datum.s != 'None'"}],
          "mark": {"type": "circle", "size": 14, "opacity": 1, "stroke": "#222", "strokeWidth": 0.4},
          "encoding": {
            "x": {"field": "x", "type": "quantitative"},
            "y": {"field": "y", "type": "quantitative"},
            "color": {"field": "s", "type": "nominal"}
          }
        },
        {
          "data": {"values": [{"t": "Female: Ctrl vs. PS"}]},
          "mark": {"type": "text", "fontSize": 5.5, "fontWeight": "bold", "baseline": "middle", "color": "#000"},
          "encoding": {
            "x": {"datum": 4.6, "type": "quantitative"},
            "y": {"datum": 14.44, "type": "quantitative"},
            "text": {"field": "t"}
          }
        },
        {
          "data": {"values": [{"t": "E"}]},
          "mark": {"type": "text", "fontSize": 12, "align": "left", "baseline": "middle", "color": "#000"},
          "encoding": {
            "x": {"datum": -8.84, "type": "quantitative"},
            "y": {"datum": 15.73, "type": "quantitative"},
            "text": {"field": "t"}
          }
        }
      ]
    },
    {
      "data": {"name": "dcells"},
      "layer": [
        {
          "mark": {"type": "rect", "stroke": "#bcbcbc", "strokeWidth": 0.7},
          "encoding": {
            "x": {"field": "c0", "type": "quantitative",
              "scale": {"type": "linear", "domain": [0, 1, 2, 3, 4], "range": [22.7, 148.3, 266, 341.7, 597], "nice": false, "zero": false}, "axis": null},
            "x2": {"field": "c1"},
            "y": {"field": "r0", "type": "quantitative",
              "scale": {"type": "linear", "domain": [0, 1, 2, 3, 4, 5, 6, 7, 8], "range": [178, 191, 200.7, 220, 239, 251.7, 266.7, 285, 311.7], "nice": false, "zero": false}, "axis": null},
            "y2": {"field": "r1"},
            "color": {"field": "k", "type": "nominal", "scale": {"domain": ["h", "s", "d"], "range": ["#eeeeee", "#f3f3f3", "#ffffff"]}, "legend": null}
          }
        },
        {
          "data": {"name": "dtext"},
          "transform": [{"filter": "datum.k == 'h'"}],
          "mark": {"type": "text", "fontSize": 7.4, "fontWeight": "bold", "color": "#222", "baseline": "middle"},
          "encoding": {"x": {"field": "cx", "type": "quantitative"}, "y": {"field": "cy", "type": "quantitative"}, "text": {"field": "t"}}
        },
        {
          "data": {"name": "dtext"},
          "transform": [{"filter": "datum.k == 's'"}],
          "mark": {"type": "text", "fontSize": 7.3, "fontWeight": "bold", "color": "#3d6bc6", "baseline": "middle"},
          "encoding": {"x": {"field": "cx", "type": "quantitative"}, "y": {"field": "cy", "type": "quantitative"}, "text": {"field": "t"}}
        },
        {
          "data": {"name": "dtext"},
          "transform": [{"filter": "datum.k == 'd'"}],
          "mark": {"type": "text", "fontSize": 7.5, "color": "#222", "baseline": "middle"},
          "encoding": {"x": {"field": "cx", "type": "quantitative"}, "y": {"field": "cy", "type": "quantitative"}, "text": {"field": "t"}}
        },
        {
          "data": {"name": "dtext"},
          "transform": [{"filter": "datum.k == 'g'"}],
          "mark": {"type": "text", "fontSize": 7.1, "color": "#222", "baseline": "middle"},
          "encoding": {"x": {"field": "cx", "type": "quantitative"}, "y": {"field": "cy", "type": "quantitative"}, "text": {"field": "t"}}
        },
        {
          "data": {"values": [{"t": "D"}]},
          "mark": {"type": "text", "fontSize": 12, "align": "left", "baseline": "middle", "color": "#000"},
          "encoding": {
            "x": {"datum": -0.165, "type": "quantitative"},
            "y": {"datum": -0.92, "type": "quantitative"},
            "text": {"field": "t"}
          }
        }
      ]
    },
    {
      "data": {"name": "dleg"},
      "layer": [
        {
          "mark": {"type": "rect", "stroke": "#a8a8a8", "strokeWidth": 0.6},
          "encoding": {
            "y": {"field": "cat", "type": "nominal",
              "scale": {"domain": ["Potassium channels", "Calcium signaling", "Glutamatergic signaling", "GABAergic signaling"], "range": [312.5, 348.5], "paddingInner": 0, "paddingOuter": 0}, "axis": null},
            "x": {"datum": 0, "type": "quantitative", "scale": {"domain": [0, 1], "range": [22.7, 148.3], "nice": false, "zero": false}, "axis": null},
            "x2": {"datum": 1},
            "color": {"field": "cat", "type": "nominal",
              "scale": {"domain": ["Potassium channels", "Calcium signaling", "Glutamatergic signaling", "GABAergic signaling"], "range": ["#d9ead3", "#cccccc", "#fce5cd", "#dde8f5"]}, "legend": null}
          }
        },
        {
          "mark": {"type": "text", "fontSize": 7, "color": "#222", "baseline": "middle"},
          "encoding": {
            "y": {"field": "cat", "type": "nominal"},
            "x": {"datum": 0.5, "type": "quantitative"},
            "text": {"field": "cat"}
          }
        }
      ]
    },
    {
      "data": {"name": "fcells"},
      "layer": [
        {
          "mark": {"type": "rect", "stroke": "#a8a8a8", "strokeWidth": 0.6},
          "encoding": {
            "x": {"field": "c0", "type": "quantitative",
              "scale": {"type": "linear", "domain": [0, 1, 2, 3, 4], "range": [20, 96.7, 265, 345, 406.7], "nice": false, "zero": false}, "axis": null},
            "x2": {"field": "c1"},
            "y": {"field": "r0", "type": "quantitative",
              "scale": {"type": "linear", "domain": [0, 1, 2, 3, 4, 5, 6, 7, 8, 9, 10, 11], "range": [360.7, 372, 382, 390.8, 399.6, 408.4, 417.2, 426, 439.5, 448.5, 457.5, 466.5], "nice": false, "zero": false}, "axis": null},
            "y2": {"field": "r1"},
            "color": {"field": "k", "type": "nominal", "scale": {"domain": ["h", "s", "d"], "range": ["#eeeeee", "#f3f3f3", "#ffffff"]}, "legend": null}
          }
        },
        {
          "data": {"name": "ftext"},
          "transform": [{"filter": "datum.k == 'h'"}],
          "mark": {"type": "text", "fontSize": 6.5, "fontWeight": "bold", "color": "#222", "baseline": "middle"},
          "encoding": {"x": {"field": "cx", "type": "quantitative"}, "y": {"field": "cy", "type": "quantitative"}, "text": {"field": "t"}}
        },
        {
          "data": {"name": "ftext"},
          "transform": [{"filter": "datum.k == 'u'"}],
          "mark": {"type": "text", "fontSize": 6.5, "fontWeight": "bold", "color": "#ff0000", "baseline": "middle"},
          "encoding": {"x": {"field": "cx", "type": "quantitative"}, "y": {"field": "cy", "type": "quantitative"}, "text": {"field": "t"}}
        },
        {
          "data": {"name": "ftext"},
          "transform": [{"filter": "datum.k == 'dn'"}],
          "mark": {"type": "text", "fontSize": 6.5, "fontWeight": "bold", "color": "#3d6bc6", "baseline": "middle"},
          "encoding": {"x": {"field": "cx", "type": "quantitative"}, "y": {"field": "cy", "type": "quantitative"}, "text": {"field": "t"}}
        },
        {
          "data": {"name": "ftext"},
          "transform": [{"filter": "datum.k == 'l'"}],
          "mark": {"type": "text", "fontSize": 6.2, "color": "#222", "baseline": "middle", "align": "left", "dx": 1},
          "encoding": {"x": {"field": "cx", "type": "quantitative"}, "y": {"field": "cy", "type": "quantitative"}, "text": {"field": "t"}}
        },
        {
          "data": {"name": "ftext"},
          "transform": [{"filter": "datum.k == 'c'"}],
          "mark": {"type": "text", "fontSize": 6.2, "color": "#222", "baseline": "middle"},
          "encoding": {"x": {"field": "cx", "type": "quantitative"}, "y": {"field": "cy", "type": "quantitative"}, "text": {"field": "t"}}
        },
        {
          "data": {"values": [{"t": "F"}]},
          "mark": {"type": "text", "fontSize": 12, "align": "left", "baseline": "middle", "color": "#000"},
          "encoding": {
            "x": {"datum": -0.27, "type": "quantitative"},
            "y": {"datum": -0.49, "type": "quantitative"},
            "text": {"field": "t"}
          }
        }
      ]
    }
  ],
  "resolve": {
    "scale": {"x": "independent", "y": "independent", "color": "independent"},
    "axis": {"x": "independent", "y": "independent"},
    "legend": {"color": "independent"}
  }
}
